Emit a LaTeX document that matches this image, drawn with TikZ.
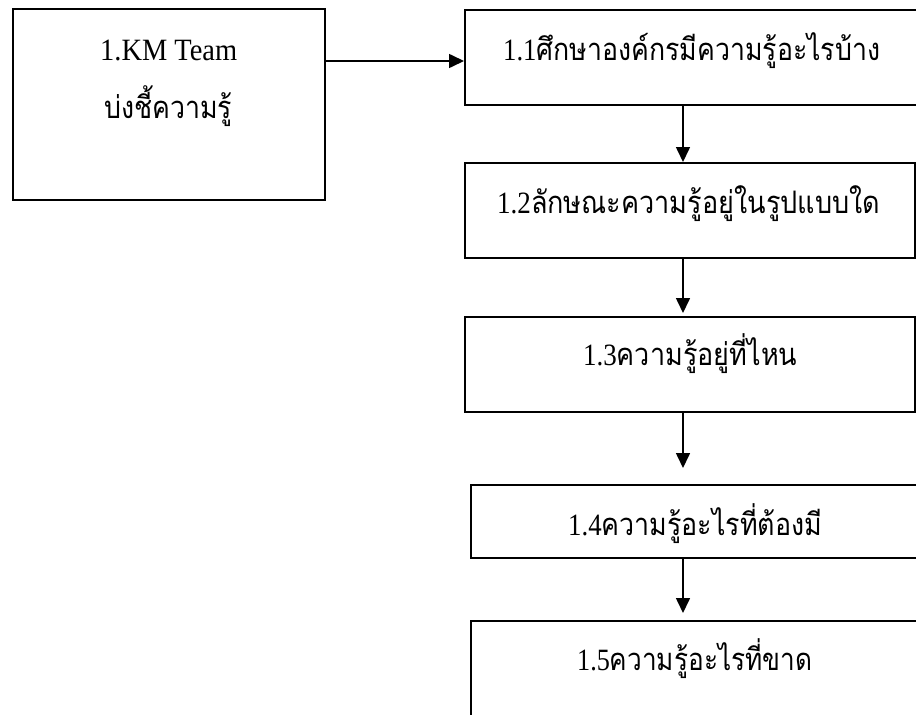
\documentclass[tikz,border=0pt]{standalone}
\usepackage{fontspec}
\usepackage{graphicx}
\setmainfont{Liberation Serif}
\newfontfamily\thai[Script=Thai]{Loma}
\usetikzlibrary{arrows.meta}
\newcommand{\lbl}[3]{\resizebox{#1pt}{\height}{\rmfamily #2\thai #3}}
\tikzset{
  box/.style={draw, line width=1.5pt, inner sep=0pt, anchor=north west},
  arr/.style={line width=1.6pt, -{Triangle[width=14pt,length=15pt]}},
  lab/.style={inner sep=0pt, anchor=base west, font=\fontsize{31}{36}\selectfont}
}
\begin{document}
\begin{tikzpicture}[x=1pt,y=-1pt]
\useasboundingbox (0,0) rectangle (916,715);
\clip (0,0) rectangle (916,715);
\fill[white] (0,0) rectangle (916,715);
% boxes
\node[box, minimum width=312pt, minimum height=191pt] (b0) at (12,8) {};
\node[box, minimum width=480pt, minimum height=95pt] (b11) at (464,9) {};
\node[box, minimum width=450pt, minimum height=95pt] (b12) at (464,162) {};
\node[box, minimum width=450pt, minimum height=95pt] (b13) at (464,316) {};
\node[box, minimum width=480pt, minimum height=73pt] (b14) at (470,484) {};
\node[box, minimum width=480pt, minimum height=130pt] (b15) at (470,620) {};
% texts
\node[lab] (t0a) at (100,60) {\resizebox{137pt}{\height}{1.KM Team}};
\node[lab] (t0b) at (104,118) {\lbl{128}{}{บ่งชี้ความรู้}};
\node[lab] (t11) at (503,60) {\lbl{377}{1.1}{ศึกษาองค์กรมีความรู้อะไรบ้าง}};
\node[lab] (t12) at (497,213) {\lbl{383}{1.2}{ลักษณะความรู้อยู่ในรูปแบบใด}};
\node[lab] (t13) at (583,365) {\lbl{214}{1.3}{ความรู้อยู่ที่ไหน}};
\node[lab] (t14) at (568,535) {\lbl{254}{1.4}{ความรู้อะไรที่ต้องมี}};
\node[lab] (t15) at (577,670) {\lbl{235}{1.5}{ความรู้อะไรที่ขาด}};
% connectors
\coordinate (ay) at (0,61);
\coordinate (ax) at (683,0);
\coordinate (e14) at (683,468);
\coordinate (e15) at (683,613);
\draw[arr] (b0.east |- ay) -- (b11.west |- ay);
\draw[arr] (b11.south -| ax) -- (b12.north -| ax);
\draw[arr] (b12.south -| ax) -- ([yshift=3pt]b13.north -| ax);
\draw[arr] (b13.south -| ax) -- (e14);
\draw[arr] (b14.south -| ax) -- (e15);
\end{tikzpicture}
\end{document}
